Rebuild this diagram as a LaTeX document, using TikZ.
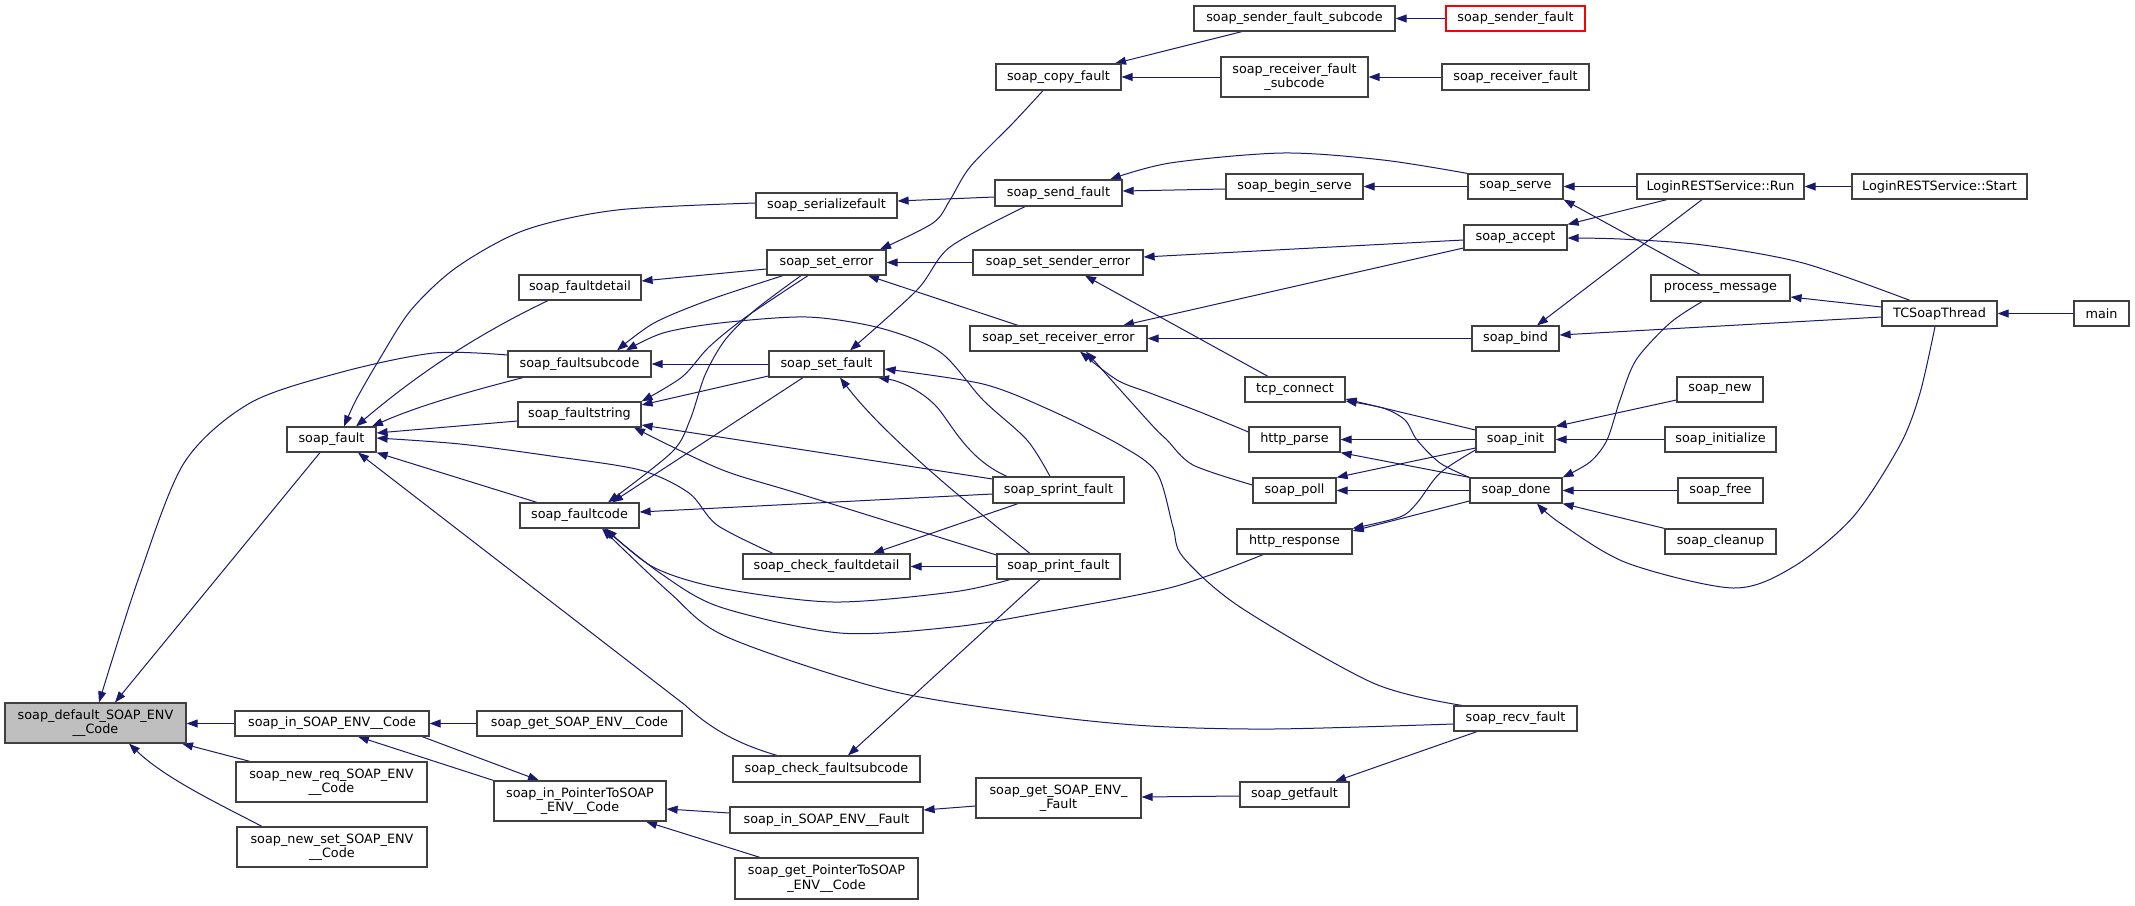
\documentclass[tikz,border=0pt]{standalone}
\usepackage{fontspec}
\setmainfont{DejaVu Sans}
\usetikzlibrary{arrows.meta}
\pgfdeclarelayer{bg}
\pgfsetlayers{bg,main}
\definecolor{edgec}{RGB}{25,25,112}
\definecolor{boxc}{RGB}{64,64,64}
\definecolor{defgray}{RGB}{191,191,191}
\newcommand{\nodebox}[7]{%
  \pgfmathsetmacro\nbx{(#3+#5)/2}%
  \pgfmathsetmacro\nby{(#4+#6)/2}%
  \pgfmathsetmacro\nbw{#5-#3}%
  \pgfmathsetmacro\nbh{#6-#4}%
  \node[box,#1,minimum width=\nbw pt,minimum height=\nbh pt] (#2) at (\nbx,\nby) {#7};%
}
\begin{document}
\begin{tikzpicture}[x=1pt,y=-1pt,
  box/.style={draw=boxc,fill=white,line width=1.2pt,inner sep=0pt,align=center,
    font=\fontsize{12.8pt}{14.5pt}\selectfont},
  e/.style={draw=edgec,line width=1pt,-{Triangle[length=11pt,width=8pt]}}]
\begin{pgfonlayer}{bg}
\fill[white] (0,0) rectangle (2135,905);
\end{pgfonlayer}
\useasboundingbox (0,0) rectangle (2135,905);

\nodebox{fill=defgray}{def}{5}{703}{186}{743}{soap\_default\_SOAP\_ENV\\\_\_Code}
\nodebox{}{fault}{287}{427}{376}{452}{soap\_fault}
\nodebox{}{fstring}{518}{402}{641}{427}{soap\_faultstring}
\nodebox{}{fcode}{520}{503}{639}{528}{soap\_faultcode}
\nodebox{}{fsub}{508}{351}{651}{377}{soap\_faultsubcode}
\nodebox{}{fdetail}{519}{275}{641}{300}{soap\_faultdetail}
\nodebox{}{serial}{756}{193}{897}{218}{soap\_serializefault}
\nodebox{}{seterr}{767}{250}{886}{275}{soap\_set\_error}
\nodebox{}{setfault}{769}{351}{884}{377}{soap\_set\_fault}
\nodebox{}{inenv}{235}{711}{429}{736}{soap\_in\_SOAP\_ENV\_\_Code}
\nodebox{}{getenv}{477}{711}{682}{736}{soap\_get\_SOAP\_ENV\_\_Code}
\nodebox{}{newreq}{236}{762}{427}{802}{soap\_new\_req\_SOAP\_ENV\\\_\_Code}
\nodebox{}{newset}{237}{827}{427}{867}{soap\_new\_set\_SOAP\_ENV\\\_\_Code}
\nodebox{}{inptr}{494}{781}{666}{821}{soap\_in\_PointerToSOAP\\\_ENV\_\_Code}
\nodebox{}{chkdet}{743}{554}{910}{579}{soap\_check\_faultdetail}
\nodebox{}{chksub}{733}{756}{920}{782}{soap\_check\_faultsubcode}
\nodebox{}{infault}{730}{807}{923}{833}{soap\_in\_SOAP\_ENV\_\_Fault}
\nodebox{}{getptr}{735}{858}{918}{899}{soap\_get\_PointerToSOAP\\\_ENV\_\_Code}
\nodebox{}{sprint}{993}{477}{1124}{503}{soap\_sprint\_fault}
\nodebox{}{print}{997}{554}{1120}{579}{soap\_print\_fault}
\nodebox{}{copy}{996}{64}{1121}{90}{soap\_copy\_fault}
\nodebox{}{send}{995}{180}{1122}{206}{soap\_send\_fault}
\nodebox{}{senderr}{973}{250}{1143}{275}{soap\_set\_sender\_error}
\nodebox{}{recverr}{970}{326}{1147}{351}{soap\_set\_receiver\_error}
\nodebox{}{getfenv}{976}{778}{1141}{818}{soap\_get\_SOAP\_ENV\_\\\_Fault}
\nodebox{}{sfsub}{1194}{6}{1395}{31}{soap\_sender\_fault\_subcode}
\nodebox{}{rfsub}{1221}{57}{1368}{97}{soap\_receiver\_fault\\\_subcode}
\nodebox{}{begin}{1226}{174}{1363}{199}{soap\_begin\_serve}
\nodebox{}{tcp}{1245}{377}{1345}{402}{tcp\_connect}
\nodebox{}{hparse}{1249}{427}{1340}{452}{http\_parse}
\nodebox{}{poll}{1253}{478}{1336}{503}{soap\_poll}
\nodebox{}{hresp}{1237}{529}{1352}{554}{http\_response}
\nodebox{}{getfault}{1240}{782}{1349}{807}{soap\_getfault}
\nodebox{draw=red}{sfault}{1446}{6}{1585}{31}{soap\_sender\_fault}
\nodebox{}{rfault}{1442}{64}{1589}{90}{soap\_receiver\_fault}
\nodebox{}{serve}{1468}{174}{1563}{199}{soap\_serve}
\nodebox{}{accept}{1464}{225}{1567}{250}{soap\_accept}
\nodebox{}{bind}{1472}{326}{1559}{351}{soap\_bind}
\nodebox{}{init}{1476}{427}{1555}{452}{soap\_init}
\nodebox{}{done}{1470}{478}{1562}{503}{soap\_done}
\nodebox{}{recv}{1454}{706}{1577}{731}{soap\_recv\_fault}
\nodebox{}{run}{1637}{174}{1804}{199}{LoginRESTService::Run}
\nodebox{}{start}{1852}{174}{2027}{199}{LoginRESTService::Start}
\nodebox{}{pmsg}{1651}{275}{1790}{301}{process\_message}
\nodebox{}{tcst}{1882}{301}{1997}{326}{TCSoapThread}
\nodebox{}{main}{2074}{301}{2129}{326}{main}
\nodebox{}{new}{1677}{377}{1763}{402}{soap\_new}
\nodebox{}{initz}{1665}{427}{1776}{452}{soap\_initialize}
\nodebox{}{free}{1678}{478}{1763}{503}{soap\_free}
\nodebox{}{clean}{1665}{529}{1776}{554}{soap\_cleanup}

\begin{pgfonlayer}{bg}
% into soap_default
\draw[e] (fault.south -| 320,0) -- (def.north -| 115,0);
\draw[e] plot[smooth] coordinates {(fsub.west |- 0,355) (434,353) (342,372) (250,403) (184,463) (138,580) (def.north -| 99,0)};
\draw[e] (inenv.west) -- (def.east |- inenv.west);
\draw[e] (newreq.north -| 250,0) -- (def.south -| 182,0);
\draw[e] (newset.north -| 262,0) .. controls (215,802) and (165,778) .. (def.south -| 129,0);
% in_SOAP_ENV__Code / PointerTo
\draw[e] (getenv.west) -- (inenv.east);
\draw[e] (inptr.north west) -- (inenv.south -| 358,0);
\draw[e] (inenv.south -| 422,0) -- (inptr.north -| 539,0);
\draw[e] (infault.west |- 0,813) -- (inptr.east |- 0,809);
\draw[e] (getptr.north -| 760,0) -- (inptr.south -| 646,0);
\draw[e] (getfenv.west |- 0,806) -- (infault.east |- 0,810);
\draw[e] (getfault.west |- 0,796) -- (getfenv.east |- 0,797);
\draw[e] (recv.south -| 1477,0) -- (getfault.north -| 1335,0);
% into soap_fault
\draw[e] plot[smooth] coordinates {(serial.west |- 0,203) (617,210) (525,230) (457,267) (411,310) (379,360) (356,400) (fault.north -| 344,0)};
\draw[e] (fdetail.south -| 548,0) .. controls (480,333) and (420,372) .. (fault.north -| 356,0);
\draw[e] (fsub.south -| 523,0) .. controls (475,390) and (420,405) .. (fault.north -| 372,0);
\draw[e] (fstring.west |- 0,421) -- (fault.east |- 0,433);
\draw[e] (fcode.north -| 537,0) -- (fault.south east);
\draw[e] plot[smooth] coordinates {(chkdet.north -| 773,0) (717,525) (689,493) (640,470) (551,456) (460,444) (fault.east |- 0,438)};
\draw[e] (chksub.north -| 777,0) .. controls (745,746) and (715,733) .. (685,705) -- (fault.south -| 358,0);
% into soap_faultcode
\draw[e] plot[smooth] coordinates {(seterr.south -| 801,0) (755,310) (725,340) (705,375) (690,420) (672,452) (fcode.north -| 608,0)};
\draw[e] (setfault.south -| 803,0) -- (fcode.north -| 612,0);
\draw[e] (sprint.west |- 0,494) -- (fcode.east |- 0,512);
\draw[e] plot[smooth] coordinates {(print.south -| 1010,0) (953,592) (833,602) (720,588) (653,567) (fcode.south -| 606,0)};
\draw[e] plot[smooth] coordinates {(hresp.south -| 1263,0) (1173,587) (1040,613) (953,627) (840,633) (720,607) (660,573) (fcode.south -| 604,0)};
\draw[e] plot[smooth] coordinates {(recv.west |- 0,724) (1273,729) (1150,726) (1040,715) (887,690) (727,637) (670,593) (fcode.south -| 602,0)};
% into soap_faultsubcode
\draw[e] plot[smooth] coordinates {(seterr.south -| 783,0) (709,300) (654,323) (fsub.north -| 617,0)};
\draw[e] (setfault.west) -- (fsub.east);
\draw[e] plot[smooth] coordinates {(sprint.north -| 1050,0) (1027,440) (983,400) (940,352) (880,328) (807,317) (720,323) (663,333) (fsub.north -| 626,0)};
% into soap_faultstring
\draw[e] plot[smooth] coordinates {(seterr.south -| 808,0) (746,317) (709,347) (682,377) (fstring.north east)};
\draw[e] (setfault.west |- 0,376) -- (fstring.east |- 0,405);
\draw[e] (sprint.west |- 0,479) -- (fstring.east |- 0,425);
\draw[e] plot[smooth] coordinates {(print.west |- 0,555) (800,494) (720,469) (fstring.south -| 634,0)};
% into soap_faultdetail, soap_set_error
\draw[e] (seterr.west |- 0,269) -- (fdetail.east |- 0,281);
\draw[e] plot[smooth] coordinates {(copy.south -| 1043,0) (1013,123) (970,167) (950,200) (933,223) (seterr.north -| 880,0)};
\draw[e] (senderr.west) -- (seterr.east);
\draw[e] (recverr.north -| 1018,0) -- (seterr.south -| 868,0);
% into soap_set_fault
\draw[e] plot[smooth] coordinates {(send.south -| 1025,0) (950,247) (917,290) (setfault.north -| 850,0)};
\draw[e] (sprint.north -| 1007,0) .. controls (965,458) and (950,420) .. (935,405) .. controls (920,390) and (900,381) .. (setfault.south -| 878,0);
\draw[e] (print.north -| 1030,0) .. controls (950,490) and (880,430) .. (setfault.south -| 840,0);
\draw[e] plot[smooth] coordinates {(recv.north -| 1462,0) (1373,683) (1240,607) (1183,557) (1173,527) (1157,473) (1120,445) (1050,410) (983,384) (setfault.east |- 0,369)};
% into soap_send_fault, serializefault, copy_fault
\draw[e] plot[smooth] coordinates {(serve.north west) (1383,160) (1283,153) (1170,163) (send.north -| 1110,0)};
\draw[e] (begin.west |- 0,189) -- (send.east |- 0,191);
\draw[e] (send.west |- 0,197) -- (serial.east |- 0,201);
\draw[e] (sfsub.south -| 1242,0) -- (copy.north -| 1115,0);
\draw[e] (rfsub.west |- 0,77) -- (copy.east |- 0,77);
\draw[e] (sfault.west) -- (sfsub.east);
\draw[e] (rfault.west |- 0,77) -- (rfsub.east |- 0,77);
% serve chain
\draw[e] (serve.west) -- (begin.east);
\draw[e] (run.west) -- (serve.east);
\draw[e] (start.west) -- (run.east);
% sender / receiver error
\draw[e] (accept.west |- 0,240) -- (senderr.east |- 0,257);
\draw[e] (tcp.north -| 1268,0) -- (senderr.south -| 1085,0);
\draw[e] (accept.west |- 0,248) -- (recverr.north -| 1123,0);
\draw[e] (bind.west) -- (recverr.east |- bind.west);
\draw[e] plot[smooth] coordinates {(hparse.west |- 0,432) (1200,412) (1150,393) (1117,380) (recverr.south -| 1080,0)};
\draw[e] plot[smooth] coordinates {(poll.west |- 0,485) (1193,465) (1167,440) (1150,423) (recverr.south -| 1086,0)};
% accept, serve, bind, process_message
\draw[e] (run.south -| 1667,0) -- (accept.north east);
\draw[e] plot[smooth] coordinates {(tcst.north -| 1910,0) (1803,263) (1703,245) (1620,239) (accept.east |- 0,238)};
\draw[e] (pmsg.north -| 1700,0) -- (serve.south east);
\draw[e] (run.south -| 1702,0) -- (bind.north -| 1537,0);
\draw[e] (tcst.west |- 0,317) -- (bind.east |- 0,335);
\draw[e] (tcst.west |- 0,307) -- (pmsg.east |- 0,297);
\draw[e] (main.west) -- (tcst.east);
% init / done
\draw[e] (new.west |- 0,400) -- (init.north east);
\draw[e] (initz.west) -- (init.east);
\draw[e] plot[smooth] coordinates {(pmsg.south -| 1702,0) (1670,323) (1636,360) (1620,400) (1607,440) (1590,462) (done.north east)};
\draw[e] (free.west) -- (done.east);
\draw[e] (clean.north west) -- (done.south east);
\draw[e] plot[smooth] coordinates {(tcst.south -| 1935,0) (1920,393) (1900,445) (1853,517) (1793,567) (1733,588) (1627,563) (1560,523) (done.south -| 1537,0)};
% tcp, http_parse, poll, http_response
\draw[e] (init.west |- 0,430) -- (tcp.east |- 0,399);
\draw[e] plot[smooth] coordinates {(done.north west) (1440,463) (1417,440) (1405,420) (1383,408) (tcp.east |- 0,401)};
\draw[e] (init.west) -- (hparse.east);
\draw[e] (done.north west) -- (hparse.south east);
\draw[e] (init.west |- 0,448) -- (poll.north east);
\draw[e] (done.west) -- (poll.east);
\draw[e] plot[smooth] coordinates {(init.west |- 0,450) (1440,473) (1417,503) (1400,517) (hresp.north east)};
\draw[e] (done.west |- 0,501) -- (hresp.east |- 0,531);
% check_faultdetail / check_faultsubcode
\draw[e] (sprint.south -| 1018,0) -- (chkdet.north -| 873,0);
\draw[e] (print.west) -- (chkdet.east);
\draw[e] (print.south -| 1040,0) -- (chksub.north -| 848,0);
\end{pgfonlayer}
\end{tikzpicture}
\end{document}
